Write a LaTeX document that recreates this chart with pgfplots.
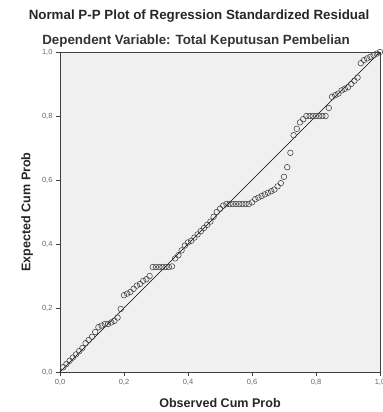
\documentclass[border=0pt]{standalone}
\usepackage{pgfplots}
\pgfplotsset{compat=1.18}
\usepackage{fontspec}
\setmainfont{Liberation Sans}
\begin{document}
\begin{tikzpicture}[x=1bp,y=1bp]
\path[use as bounding box] (0,0) rectangle (383,412);
\node[font=\fontsize{13.4}{15}\selectfont\bfseries, text=black!85] at (199,396) {Normal P-P Plot of Regression Standardized Residual};
\node[font=\fontsize{13.4}{15}\selectfont\bfseries, text=black!80] at (196,371) {Dependent Variable: Total Keputusan Pembelian};
\begin{axis}[
  at={(60bp,40bp)}, anchor=origin,
  scale only axis, width=320bp, height=320bp,
  xmin=0, xmax=1, ymin=0, ymax=1,
  xtick={0,0.2,0.4,0.6,0.8,1.0}, ytick={0,0.2,0.4,0.6,0.8,1.0},
  tick pos=left, tick align=outside, major tick length=4bp,
  tick style={black!75, line width=0.6pt},
  axis background/.style={fill=gray!12},
  axis line style={black!75, line width=0.7pt},
  /pgf/number format/assume math mode=true,
  /pgf/number format/.cd, use comma, fixed, fixed zerofill, precision=1, /pgfplots/.cd,
  ticklabel style={font=\fontsize{7.5}{8}\selectfont, text=black!60},
  xlabel={Observed Cum Prob}, ylabel={Expected Cum Prob},
  label style={font=\fontsize{12.6}{14}\selectfont\bfseries, text=black!85},
  xlabel style={at={(axis description cs:0.5,-0.097)}, anchor=center},
  ylabel style={at={(axis description cs:-0.103,0.5)}, anchor=center},
  clip=false,
]
\addplot[black, line width=0.6pt] coordinates {(0,0) (1,1)};
\addplot[only marks, mark=o, mark size=2.8bp, mark options={draw=black!75, line width=0.55pt, fill=none}] coordinates {
(0.01,0.015) (0.02,0.025) (0.03,0.035) (0.04,0.045) (0.05,0.055)
(0.06,0.065) (0.07,0.075) (0.08,0.09) (0.09,0.10) (0.10,0.11)
(0.11,0.125) (0.12,0.14) (0.13,0.145) (0.14,0.15) (0.15,0.15)
(0.16,0.155) (0.17,0.16) (0.18,0.17) (0.19,0.197) (0.20,0.24)
(0.21,0.245) (0.22,0.25) (0.23,0.26) (0.24,0.27) (0.25,0.275)
(0.26,0.285) (0.27,0.29) (0.28,0.30) (0.29,0.328) (0.30,0.328)
(0.31,0.328) (0.32,0.328) (0.33,0.328) (0.34,0.328) (0.35,0.33)
(0.36,0.355) (0.37,0.365) (0.38,0.38) (0.39,0.395) (0.40,0.405)
(0.41,0.41) (0.42,0.42) (0.43,0.43) (0.44,0.44) (0.45,0.45)
(0.46,0.46) (0.47,0.47) (0.48,0.485) (0.49,0.50) (0.50,0.51)
(0.51,0.52) (0.52,0.525) (0.53,0.525) (0.54,0.525) (0.55,0.525)
(0.56,0.525) (0.57,0.525) (0.58,0.525) (0.59,0.525) (0.60,0.53)
(0.61,0.54) (0.62,0.545) (0.63,0.55) (0.64,0.555) (0.65,0.56)
(0.66,0.565) (0.67,0.57) (0.68,0.58) (0.69,0.59) (0.70,0.61)
(0.71,0.64) (0.72,0.685) (0.73,0.74) (0.74,0.76) (0.75,0.78)
(0.76,0.79) (0.77,0.80) (0.78,0.80) (0.79,0.80) (0.80,0.80)
(0.81,0.80) (0.82,0.80) (0.83,0.80) (0.84,0.825) (0.85,0.86)
(0.86,0.865) (0.87,0.87) (0.88,0.88) (0.89,0.885) (0.90,0.89)
(0.91,0.90) (0.92,0.91) (0.93,0.92) (0.94,0.965) (0.95,0.975)
(0.96,0.98) (0.97,0.985) (0.98,0.99) (0.99,0.995) (1.00,1.00)
};
\end{axis}
\end{tikzpicture}
\end{document}
